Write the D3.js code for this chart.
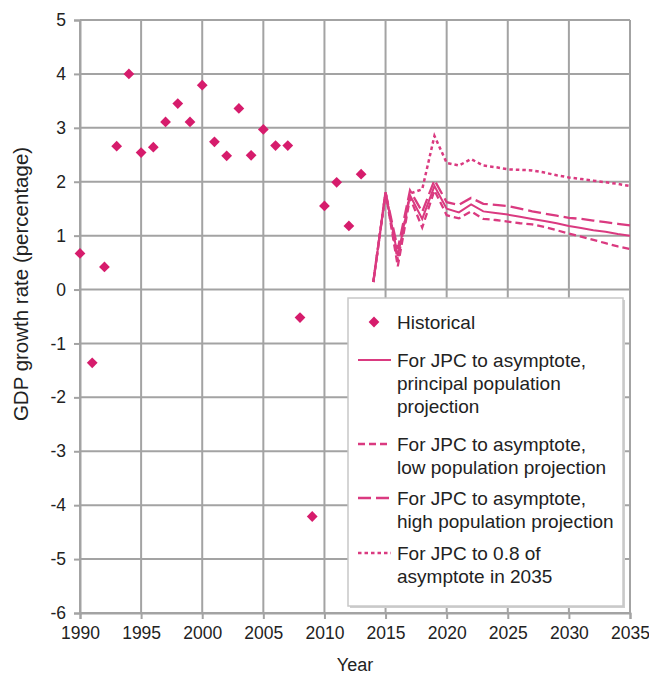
<!DOCTYPE html>
<html><head><meta charset="utf-8">
<script src="https://cdn.jsdelivr.net/npm/d3@7"></script>
<style>body{margin:0;background:#fff;} text{font-family:"Liberation Sans",Arial,sans-serif;fill:#222;}</style>
</head><body>
<svg id="c" width="649" height="677"></svg>
<script>
const histYears = [1990,1991,1992,1993,1994,1995,1996,1997,1998,1999,2000,2001,2002,2003,2004,2005,2006,2007,2008,2009,2010,2011,2012,2013];
const histValues = [0.67,-1.36,0.42,2.66,4.0,2.54,2.64,3.11,3.45,3.11,3.79,2.74,2.48,3.36,2.49,2.97,2.67,2.67,-0.52,-4.21,1.55,1.99,1.18,2.14];
const projYears = [2014,2015,2016,2017,2018,2019,2020,2021,2022,2023,2024,2025,2026,2027,2028,2029,2030,2031,2032,2033,2034,2035];
const principal = [0.14,1.80,0.62,1.75,1.31,1.92,1.50,1.43,1.58,1.45,1.42,1.39,1.35,1.31,1.27,1.23,1.18,1.14,1.10,1.07,1.03,1.00];
const lowPop    = [0.14,1.80,0.43,1.70,1.15,1.84,1.38,1.32,1.45,1.31,1.29,1.26,1.23,1.21,1.16,1.10,1.04,0.98,0.92,0.86,0.80,0.75];
const highPop   = [0.14,1.80,0.75,1.84,1.44,2.03,1.62,1.57,1.70,1.59,1.57,1.55,1.50,1.45,1.41,1.37,1.33,1.31,1.28,1.25,1.22,1.19];
const asym08    = [0.14,1.80,0.55,1.78,1.86,2.85,2.35,2.30,2.42,2.30,2.27,2.23,2.22,2.21,2.17,2.12,2.08,2.05,2.02,1.99,1.96,1.92];
const xTicks = [1990,1995,2000,2005,2010,2015,2020,2025,2030,2035];
const yTicks = [-6,-5,-4,-3,-2,-1,0,1,2,3,4,5];
const seriesNames = ["Historical",
  ["For JPC to asymptote,","principal population","projection"],
  ["For JPC to asymptote,","low population projection"],
  ["For JPC to asymptote,","high population projection"],
  ["For JPC to 0.8 of","asymptote in 2035"]];

const svg = d3.select("#c");
const L=80,R=630,T=20,B=613;
const x = d3.scaleLinear().domain([1990,2035]).range([L,R]);
const y = d3.scaleLinear().domain([-6,5]).range([B,T]);
const grid="#a3a3a3", pink="#d61c6c", lineC="#da3a80";

// grid
svg.append("g").selectAll("line").data(yTicks).join("line")
  .attr("x1",L).attr("x2",R).attr("y1",d=>y(d)).attr("y2",d=>y(d))
  .attr("stroke",grid).attr("stroke-width",2);
svg.append("g").selectAll("line").data(xTicks).join("line")
  .attr("x1",d=>x(d)).attr("x2",d=>x(d)).attr("y1",T).attr("y2",B)
  .attr("stroke",grid).attr("stroke-width",2);

// axes
const ya = svg.append("g").attr("transform",`translate(${L},0)`)
  .call(d3.axisLeft(y).tickValues(yTicks).tickSize(6).tickPadding(8).tickFormat(d=>String(d)));
const xa = svg.append("g").attr("transform",`translate(0,${B})`)
  .call(d3.axisBottom(x).tickValues(xTicks).tickSize(6).tickPadding(5).tickFormat(d=>String(d)));
[ya,xa].forEach(a=>{
  a.selectAll("path,line").attr("stroke",grid).attr("stroke-width",2);
  a.selectAll("text").attr("font-size",17.5).style("fill","#222");
});
xa.selectAll("text").attr("dy","0.85em");

svg.append("text").attr("x",355).attr("y",671).attr("text-anchor","middle").attr("font-size",18).text("Year");
svg.append("text").attr("transform","translate(28,284) rotate(-90)").attr("text-anchor","middle").attr("font-size",20.5).text("GDP growth rate (percentage)");

// projections
const line = d3.line().x((d,i)=>x(projYears[i])).y(d=>y(d));
const styles = [
  {data:principal, dash:null, w:2},
  {data:lowPop, dash:"7,4", w:2.3},
  {data:highPop, dash:"13,5", w:2.3},
  {data:asym08, dash:"3.5,3", w:2.5}
];
styles.forEach(s=>{
  svg.append("path").datum(s.data).attr("d",line).attr("fill","none")
    .attr("stroke",lineC).attr("stroke-width",s.w).attr("stroke-dasharray",s.dash);
});

// historical diamonds
const diamond = d3.symbol().type(d3.symbolSquare).size(58);
svg.append("g").selectAll("path").data(histValues).join("path")
  .attr("d",diamond).attr("transform",(d,i)=>`translate(${x(histYears[i])},${y(d)}) rotate(45)`)
  .attr("fill",pink);

// legend
const lg = svg.append("g");
lg.append("rect").attr("x",350).attr("y",300).attr("width",275).attr("height",308).attr("fill","#cfcfcf");
lg.append("rect").attr("x",348).attr("y",298).attr("width",275).attr("height",308).attr("fill","#fff").attr("stroke","#c8c8c8").attr("stroke-width",1.5);
const tx=397, lh=23.3;
lg.append("path").attr("d",diamond).attr("transform","translate(374,322) rotate(45)").attr("fill",pink);
lg.append("text").attr("x",tx).attr("y",322).attr("dy","0.35em").attr("font-size",19).text(seriesNames[0]);
const legY=[360,444,498,553];
styles.forEach((s,k)=>{
  const yy=legY[k];
  lg.append("line").attr("x1",358).attr("x2",391).attr("y1",yy).attr("y2",yy)
    .attr("stroke",lineC).attr("stroke-width",s.w).attr("stroke-dasharray",s.dash);
  seriesNames[k+1].forEach((t,j)=>{
    lg.append("text").attr("x",tx).attr("y",yy+j*lh).attr("dy","0.35em").attr("font-size",19).text(t);
  });
});
</script>
</body></html>
